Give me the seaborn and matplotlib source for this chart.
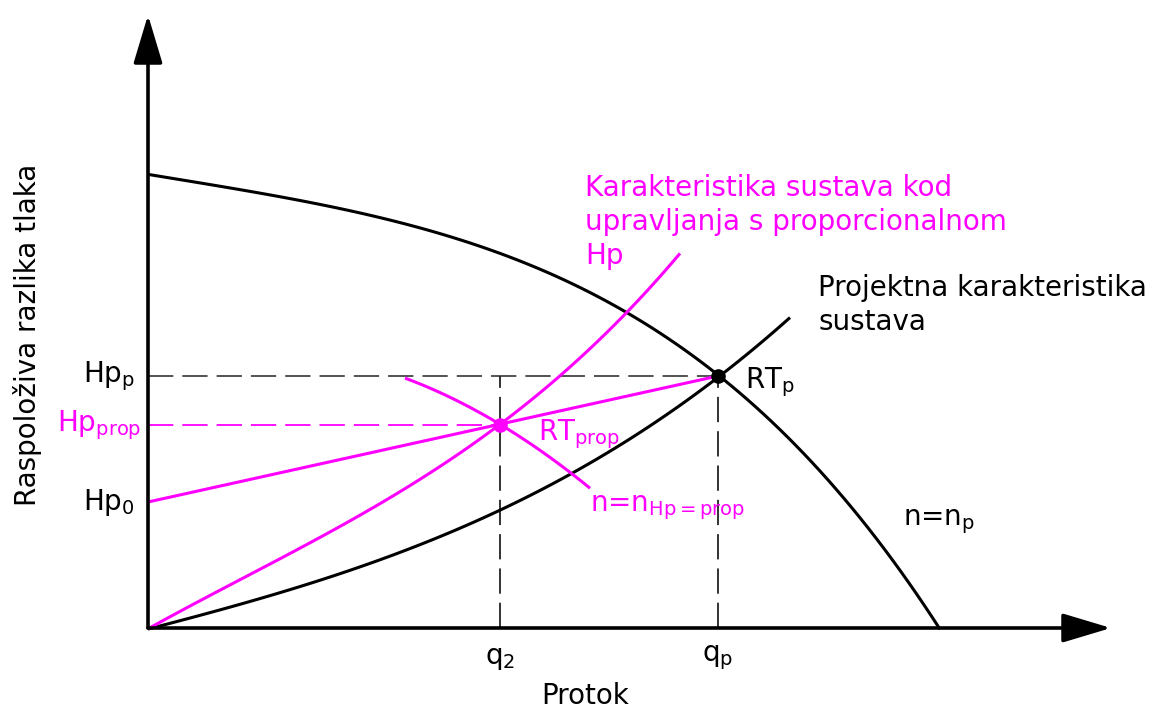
import matplotlib
matplotlib.use("Agg")
import matplotlib.pyplot as plt
import seaborn as sns
import pandas as pd
from matplotlib.patches import ArrowStyle

# ---------------- data (arbitrary units) ----------------
q_pump = [0.00, 1.25, 2.59, 3.52, 3.92, 4.79, 5.70, 6.52, 7.19, 7.92]
H_pump = [4.53, 4.35, 4.00, 3.75, 3.60, 3.16, 2.52, 1.81, 0.98, 0.00]

q_sys = [0.00, 0.92, 1.92, 2.92, 3.72, 4.25, 5.25, 5.70, 6.42]
H_sys = [0.00, 0.21, 0.55, 0.95, 1.26, 1.53, 2.18, 2.52, 3.10]

q_prop_sys = [0.00, 0.92, 1.92, 2.92, 3.52, 4.12, 4.79, 5.32]
H_prop_sys = [0.00, 0.46, 1.03, 1.63, 2.03, 2.51, 3.16, 3.75]

q_prop_line = [0.00, 5.70]
H_prop_line = [1.26, 2.52]

q_n_prop = [2.57, 3.05, 3.52, 4.25, 4.42]
H_n_prop = [2.50, 2.29, 2.04, 1.53, 1.40]

Q2, QP = 3.52, 5.70
HP_P, HP_PROP, HP_0 = 2.52, 2.03, 1.26

MAG = "#FF00FF"
BLK = "#000000"

sns.set_theme(style="white")
plt.rcParams["font.family"] = ["DejaVu Sans"]

fig = plt.figure(figsize=(11.53, 7.09), dpi=100)
ax = fig.add_axes([0, 0, 1, 1])


def curve(q, h, color, order, lw=2.2):
    df = pd.DataFrame({"q": q, "h": h})
    sns.regplot(data=df, x="q", y="h", ax=ax, order=order, ci=None,
                scatter=False, truncate=True,
                line_kws=dict(color=color, lw=lw, solid_capstyle="butt"))


# dashed helper lines
dash = (0, (14, 5))
ax.plot([0, QP], [HP_P, HP_P], color="#444444", lw=1.3, ls=dash)
ax.plot([Q2, Q2], [0, HP_P], color="#222222", lw=1.3, ls=dash)
ax.plot([QP, QP], [0, HP_P], color="#222222", lw=1.3, ls=dash)
ax.plot([0, Q2], [HP_PROP, HP_PROP], color=MAG, lw=1.3, ls=dash)

# curves
curve(q_pump, H_pump, BLK, order=4)
curve(q_sys, H_sys, BLK, order=3)
curve(q_prop_sys, H_prop_sys, MAG, order=3)
curve(q_prop_line, H_prop_line, MAG, order=1)
curve(q_n_prop, H_n_prop, MAG, order=2)

# operating points
ax.scatter([QP], [HP_P], s=90, color=BLK, zorder=5)
ax.scatter([Q2], [HP_PROP], s=90, color=MAG, zorder=5)

# axes arrows
st = ArrowStyle("-|>", head_length=1.5, head_width=0.45)
ax.annotate("", xy=(9.63, 0), xytext=(0, 0),
            arrowprops=dict(arrowstyle=st, mutation_scale=20, lw=2.6, color=BLK,
                            shrinkA=0, shrinkB=0))
ax.annotate("", xy=(0, 6.13), xytext=(0, 0),
            arrowprops=dict(arrowstyle=st, mutation_scale=20, lw=2.6, color=BLK,
                            shrinkA=0, shrinkB=0))

ax.set_xlim(-1.48, 10.05)
ax.set_ylim(-0.81, 6.28)
ax.axis("off")

fs = 20
# y tick-like labels
ax.text(-0.13, HP_P, r"Hp$_\mathregular{p}$", ha="right", va="center", fontsize=fs, color=BLK)
ax.text(-0.07, HP_PROP, r"Hp$_\mathregular{prop}$", ha="right", va="center", fontsize=fs, color=MAG)
ax.text(-0.13, HP_0, r"Hp$_\mathregular{0}$", ha="right", va="center", fontsize=fs, color=BLK)
# x tick-like labels
ax.text(Q2, -0.30, r"q$_\mathregular{2}$", ha="center", va="center", fontsize=fs, color=BLK)
ax.text(QP, -0.30, r"q$_\mathregular{p}$", ha="center", va="center", fontsize=fs, color=BLK)

# axis titles
ax.text(4.37, -0.68, "Protok", ha="center", va="center", fontsize=fs, color=BLK)
ax.text(-1.20, 2.93, "Raspoloživa razlika tlaka", ha="center", va="center",
        rotation=90, fontsize=fs, color=BLK)

# annotations
ax.text(4.37, 4.54, "Karakteristika sustava kod\nupravljanja s proporcionalnom\nHp",
        ha="left", va="top", fontsize=fs, color=MAG, linespacing=1.28)
ax.text(6.70, 3.54, "Projektna karakteristika\nsustava",
        ha="left", va="top", fontsize=fs, color=BLK, linespacing=1.28)
ax.text(5.97, 2.46, r"RT$_\mathregular{p}$", ha="left", va="center", fontsize=fs, color=BLK)
ax.text(3.90, 1.94, r"RT$_\mathregular{prop}$", ha="left", va="center", fontsize=fs, color=MAG)
ax.text(4.42, 1.20, r"n=n$_\mathregular{Hp=prop}$", ha="left", va="center", fontsize=fs, color=MAG)
ax.text(7.55, 1.06, r"n=n$_\mathregular{p}$", ha="left", va="center", fontsize=fs, color=BLK)

fig.savefig("out.png", dpi=100)
